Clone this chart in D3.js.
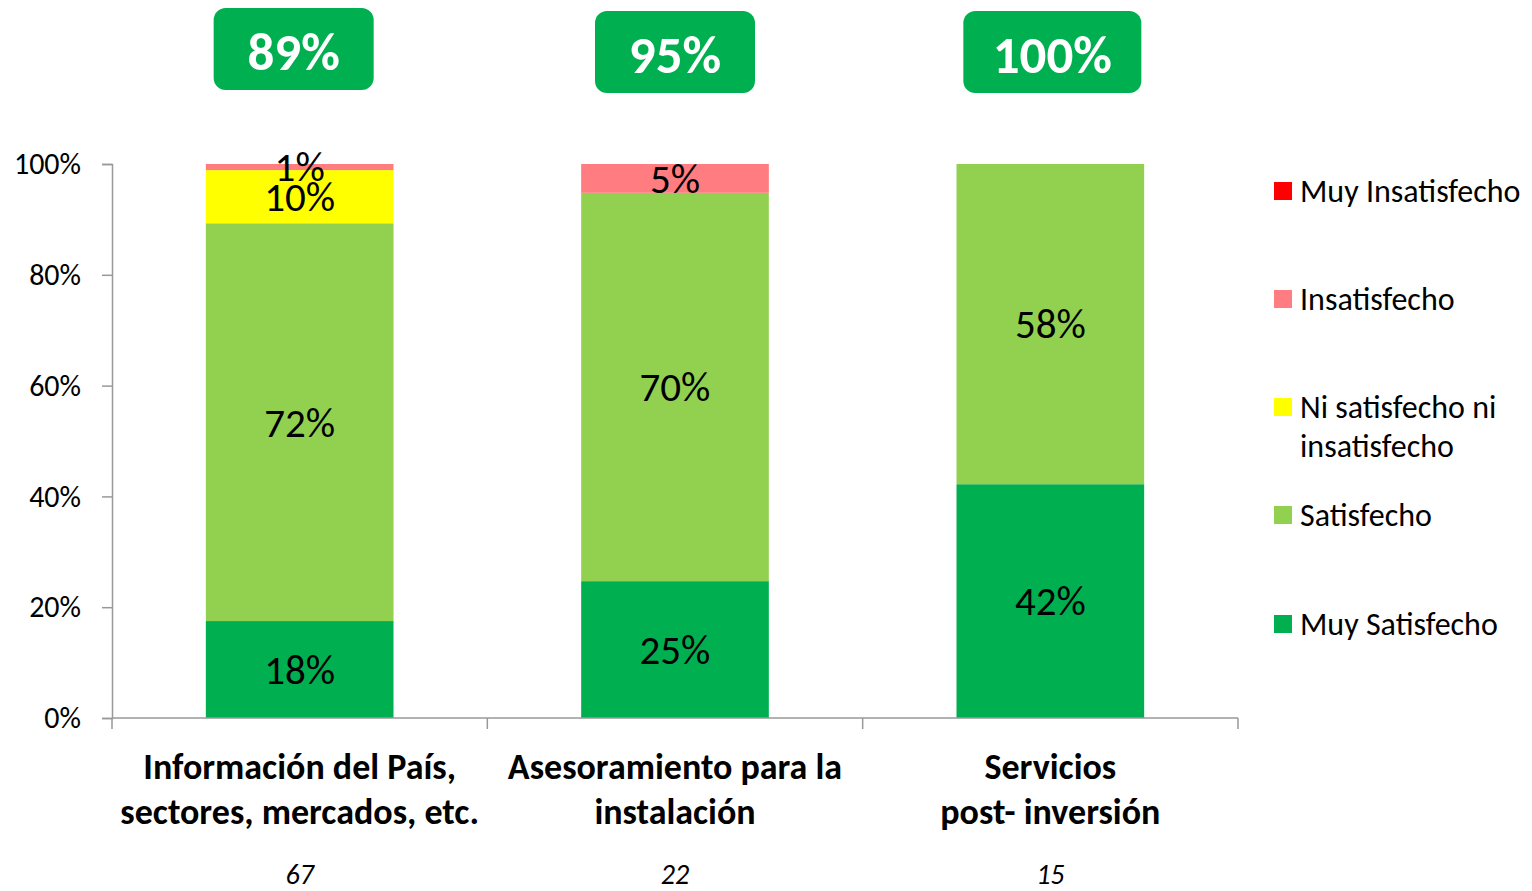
<!DOCTYPE html>
<html>
<head>
<meta charset="utf-8">
<script src="https://cdn.jsdelivr.net/npm/d3@7"></script>
<style>
  body { margin: 0; background: #fff; }
  svg text { font-family: Carlito, Calibri, Lato, "Open Sans", sans-serif; }
</style>
</head>
<body>
<div id="chart"></div>
<script>
// categories (two-line labels) and respondent counts
var categories = ["Información del País, sectores, mercados, etc.", "Asesoramiento para la instalación", "Servicios post- inversión"];
var catLines = [["Información del País,", "sectores, mercados, etc."], ["Asesoramiento para la", "instalación"], ["Servicios", "post- inversión"]];
var counts = ["67", "22", "15"];
var totals = ["89%", "95%", "100%"];

// series, stacked bottom to top
var seriesNames = ["Muy Satisfecho", "Satisfecho", "Ni satisfecho ni insatisfecho", "Insatisfecho", "Muy Insatisfecho"];
var muySatisfecho = [17.5, 24.7, 42.2];
var satisfecho = [71.8, 70.1, 57.8];
var ni = [9.6, 0, 0];
var insatisfecho = [1.1, 5.2, 0];
var muyInsatisfecho = [0, 0, 0];
var colors = ["#00B050", "#92D050", "#FFFF00", "#FF7C80", "#FF0000"];

var yTicks = [0, 20, 40, 60, 80, 100];

var width = 1532, height = 891;
var margin = { top: 164, right: 294, bottom: 173, left: 112 };
var w = width - margin.left - margin.right,
    h = height - margin.top - margin.bottom;

var rows = categories.map(function (c, i) {
  return {
    cat: c,
    "Muy Satisfecho": muySatisfecho[i],
    "Satisfecho": satisfecho[i],
    "Ni satisfecho ni insatisfecho": ni[i],
    "Insatisfecho": insatisfecho[i],
    "Muy Insatisfecho": muyInsatisfecho[i]
  };
});

var svg = d3.select("#chart")
  .append("svg")
  .attr("width", width)
  .attr("height", height);

var g = svg.append("g")
  .attr("transform", "translate(" + margin.left + "," + margin.top + ")");

var x = d3.scaleBand()
  .domain(categories)
  .range([0, w])
  .paddingInner(0.5)
  .paddingOuter(0.25);

var y = d3.scaleLinear()
  .domain([0, 100])
  .range([h, 0]);

var color = d3.scaleOrdinal().domain(seriesNames).range(colors);

var stack = d3.stack().keys(seriesNames);
var stacked = stack(rows);

// bars
var layer = g.selectAll(".layer")
  .data(stacked)
  .enter().append("g")
  .attr("fill", function (d) { return color(d.key); });

layer.selectAll("rect")
  .data(function (d) { return d; })
  .enter().append("rect")
  .attr("x", function (d) { return x(d.data.cat); })
  .attr("y", function (d) { return y(d[1]); })
  .attr("width", x.bandwidth())
  .attr("height", function (d) { return y(d[0]) - y(d[1]); });

// segment labels
layer.selectAll("text")
  .data(function (d) { return d.filter(function (s) { return s[1] - s[0] > 0; }); })
  .enter().append("text")
  .attr("x", function (d) { return x(d.data.cat) + x.bandwidth() / 2; })
  .attr("y", function (d) { return (y(d[0]) + y(d[1])) / 2; })
  .attr("dy", "0.35em")
  .attr("text-anchor", "middle")
  .attr("fill", "#000")
  .style("font-size", "41px")
  .text(function (d) { return Math.round(d[1] - d[0]) + "%"; });

// y axis
var yAxis = g.append("g")
  .call(d3.axisLeft(y).tickValues(yTicks).tickSize(10).tickPadding(21)
    .tickFormat(function (d) { return d + "%"; }));
yAxis.select(".domain").attr("stroke", "#999").attr("stroke-width", 1.5);
yAxis.selectAll(".tick line").attr("stroke", "#999").attr("stroke-width", 1.5);
yAxis.selectAll("text").style("font-size", "30px").attr("fill", "#000");

// x axis line with boundary ticks
var xBounds = [0].concat(categories.map(function (c) { return x(c) + x.bandwidth() / 2 + x.step() / 2; }));
g.append("line")
  .attr("x1", 0).attr("x2", w)
  .attr("y1", h).attr("y2", h)
  .attr("stroke", "#999").attr("stroke-width", 1.5);
g.selectAll(".xtick")
  .data(xBounds)
  .enter().append("line")
  .attr("x1", function (d) { return d; })
  .attr("x2", function (d) { return d; })
  .attr("y1", h).attr("y2", h + 11)
  .attr("stroke", "#999").attr("stroke-width", 1.5);

// category labels
var catText = g.selectAll(".cat")
  .data(categories)
  .enter().append("text")
  .attr("text-anchor", "middle")
  .attr("x", function (d) { return x(d) + x.bandwidth() / 2; })
  .attr("y", h + 61)
  .style("font-size", "36px")
  .style("font-weight", "bold")
  .attr("fill", "#000");
catText.selectAll("tspan")
  .data(function (d, i) { return catLines[i]; })
  .enter().append("tspan")
  .attr("x", function () { return d3.select(this.parentNode).attr("x"); })
  .attr("dy", function (d, i) { return i === 0 ? 0 : 45; })
  .text(function (d) { return d; });

// counts
g.selectAll(".count")
  .data(categories)
  .enter().append("text")
  .attr("text-anchor", "middle")
  .attr("x", function (d) { return x(d) + x.bandwidth() / 2; })
  .attr("y", h + 166)
  .style("font-size", "28px")
  .style("font-style", "italic")
  .attr("fill", "#000")
  .text(function (d, i) { return counts[i]; });

// total boxes above bars
var boxW = [160, 160, 178], boxOff = [-6, 0, 2], boxTop = [8, 11, 11];
var boxes = svg.selectAll(".box")
  .data(categories)
  .enter().append("g")
  .attr("transform", function (d, i) {
    return "translate(" + (margin.left + x(d) + x.bandwidth() / 2 + boxOff[i]) + "," + boxTop[i] + ")";
  });
boxes.append("rect")
  .attr("x", function (d, i) { return -boxW[i] / 2; })
  .attr("y", 0)
  .attr("width", function (d, i) { return boxW[i]; })
  .attr("height", 82)
  .attr("rx", 12)
  .attr("fill", "#00B050");
boxes.append("text")
  .attr("text-anchor", "middle")
  .attr("y", 43)
  .attr("dy", "0.35em")
  .attr("fill", "#fff")
  .style("font-size", "53px")
  .style("font-weight", "bold")
  .text(function (d, i) { return totals[i]; });

// legend
var legendItems = seriesNames.slice().reverse();
var legendLines = {
  "Ni satisfecho ni insatisfecho": ["Ni satisfecho ni", "insatisfecho"]
};
var legendY = [191, 299, 407, 515, 624];
var legend = svg.selectAll(".legend")
  .data(legendItems)
  .enter().append("g")
  .attr("transform", function (d, i) { return "translate(1274," + legendY[i] + ")"; });
legend.append("rect")
  .attr("x", 0).attr("y", -9)
  .attr("width", 18).attr("height", 18)
  .attr("fill", function (d) { return color(d); });
var lt = legend.append("text")
  .attr("x", 26)
  .attr("y", 0)
  .style("font-size", "32px")
  .attr("fill", "#000");
lt.selectAll("tspan")
  .data(function (d) { return legendLines[d] || [d]; })
  .enter().append("tspan")
  .attr("x", 26)
  .attr("dy", function (d, i) { return i === 0 ? "0.35em" : "39"; })
  .text(function (d) { return d; });
</script>
</body>
</html>
